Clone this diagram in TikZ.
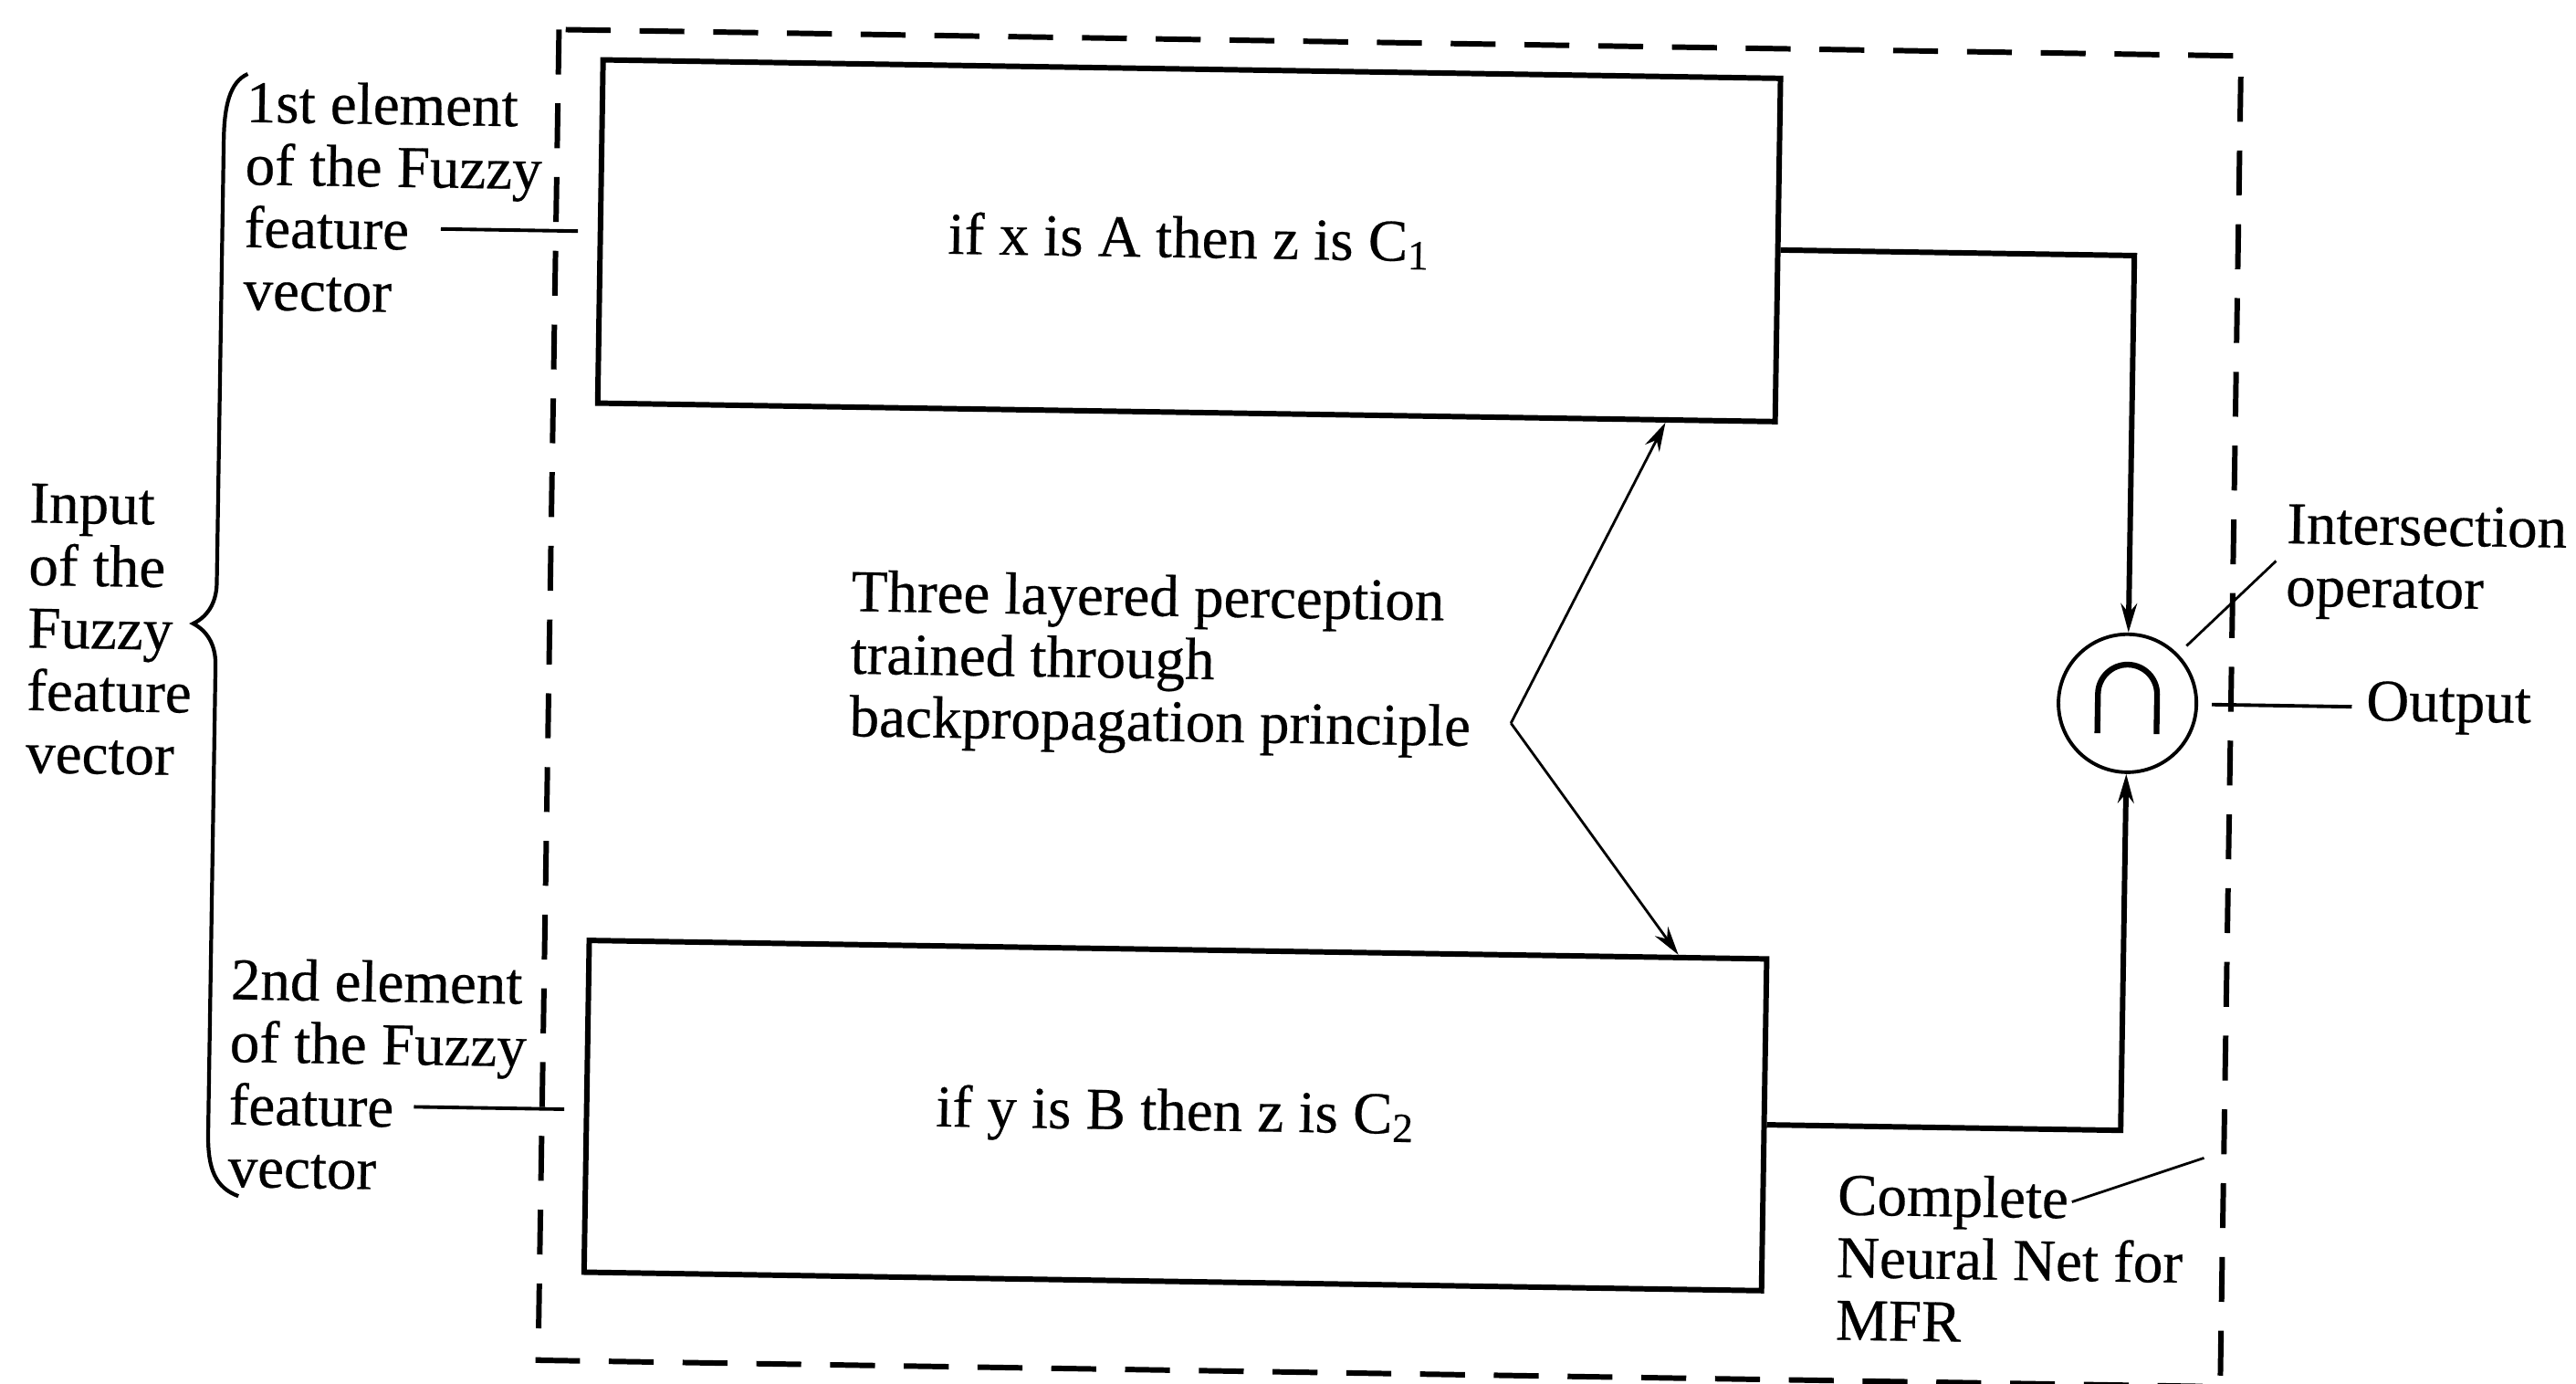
\documentclass[tikz,border=0pt]{standalone}
\usepackage{fontspec}
\setmainfont[FakeBold=0.4]{Liberation Serif}
\usetikzlibrary{arrows.meta,calc}
\begin{document}
\begin{tikzpicture}[x=0.018cm, y=-0.018cm,
  font=\fontsize{18.5}{19.5}\selectfont,
  rulebox/.style={draw, line width=1.7pt, minimum width=12.906cm, inner sep=0pt},
  frame/.style={line width=1.7pt, dash pattern=on 14pt off 9pt},
  link/.style={line width=1.7pt},
  leader/.style={line width=0.8pt},
  feed/.style={line width=1.1pt},
  tip/.style={-{Stealth[length=9pt,width=5pt]}},
  lbl/.style={align=left, inner sep=0pt, anchor=west}]
\fill[white] (0,0) rectangle (1568,842);
\useasboundingbox (0,0) rectangle (1568,842);
\clip (0,0) rectangle (1568,842);
\begin{scope}[rotate around={-0.9:(784,421)}, transform shape]
  % boundary of the complete network
  \draw[frame] (334,25) rectangle (1358,835);

  % the two rule networks
  \node[rulebox, minimum height=3.762cm] (rA) at (719.5,147.5) {if x is A then z is C\textsubscript{1}};
  \node[rulebox, minimum height=3.636cm] (rB) at (719.5,680) {if y is B then z is C\textsubscript{2}};

  % intersection operator
  \node[circle, draw, line width=1.1pt, minimum size=1.512cm, inner sep=0pt] (op) at (1295,420) {};
  \draw[line width=1.8pt] ([shift={(-18,18.5)}]op.center) -- ++(0,-24)
        arc[start angle=180, end angle=360, radius=18] -- ++(0,24);

  % rule outputs into the operator
  \coordinate (cA) at (1295,147.5);
  \coordinate (cB) at (1295,680);
  \draw[link, tip] (rA.east) -- (cA) -- (op.north);
  \draw[link, tip] (rB.east) -- (cB) -- (op.south);

  % output
  \node[lbl] (out) at (1440,420) {Output};
  \draw[feed] ([xshift=0.15cm]op.east) -- ([xshift=-0.15cm]out.west);

  % operator label
  \node[lbl] (iop) at (1390,332) {Intersection\\operator};
  \draw[leader] ([shift={(5,-5)}]op.45) -- ([xshift=-3pt]iop.west);

  % network label
  \node[lbl] (cnn) at (1123,759.5) {Complete\\Neural Net for\\MFR};
  \coordinate (cnnA) at (1266,724);
  \coordinate (cnnB) at (1346,696);
  \draw[leader] (cnnA) -- (cnnB);

  % perceptron label with its two pointers
  \node[lbl] (mlp) at (517,405.5) {Three layered perception\\trained through\\backpropagation principle};
  \coordinate (bend) at (920,438);
  \draw[leader, tip] (bend) -- ($(rA.south west)!0.905!(rA.south east)$);
  \draw[leader, tip] (bend) -- ($(rB.north west)!0.923!(rB.north east)$);

  % inputs
  \node[lbl] (e1) at (144,129) {1st element\\of the Fuzzy\\feature\\vector};
  \node[lbl] (e2) at (143,663) {2nd element\\of the Fuzzy\\feature\\vector};
  \coordinate (in1) at (264,147.5);
  \coordinate (in2) at (256,682);
  \draw[feed] (in1) -- ($(rA.west)+(-12,0)$);
  \draw[feed] (in2) -- ($(rB.west)+(-12,2)$);

  % brace grouping the inputs
  \draw[line width=1.2pt] (145,55) .. controls (134,60) and (131,75) .. (131,95)
        -- (131,365) .. controls (131,378) and (125,386) .. (117,390)
        .. controls (125,394) and (131,402) .. (131,415)
        -- (131,700) .. controls (131,722) and (136,733) .. (150,738);
  \node[lbl] (inp) at (16,394.5) {Input\\of the\\Fuzzy\\feature\\vector};
\end{scope}
\end{tikzpicture}
\end{document}
